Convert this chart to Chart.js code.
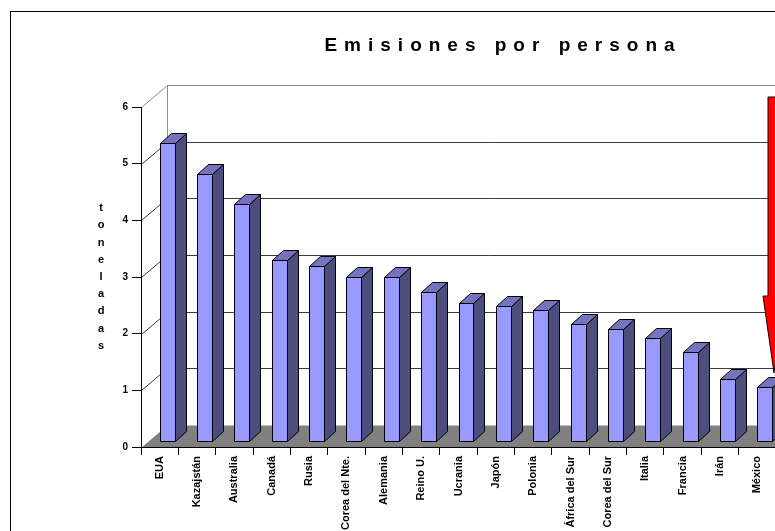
<!DOCTYPE html>
<html lang="es">
<head>
<meta charset="utf-8">
<title>Emisiones por persona</title>
<script src="https://cdn.jsdelivr.net/npm/chart.js@4.4.1/dist/chart.umd.min.js"></script>
<style>
  html, body { margin: 0; padding: 0; background: #fff; overflow: hidden; }
  #wrap { position: relative; width: 810px; height: 560px; }
</style>
</head>
<body>
<div id="wrap"><canvas id="chartEmisiones" width="810" height="560"></canvas></div>
<script>
  const paises = ['EUA', 'Kazajstán', 'Australia', 'Canadá', 'Rusia', 'Corea del Nte.', 'Alemania', 'Reino U.',
    'Ucrania', 'Japón', 'Polonia', 'África del Sur', 'Corea del Sur', 'Italia', 'Francia', 'Irán', 'México'];
  const toneladas = [5.26, 4.71, 4.18, 3.19, 3.08, 2.89, 2.89, 2.63, 2.43, 2.39, 2.31, 2.06, 1.98, 1.81, 1.57, 1.09, 0.96];
  const ejeY = { min: 0, max: 6, paso: 1 };
  const titulo = 'Emisiones por persona';
  const tituloEje = ['t', 'o', 'n', 'e', 'l', 'a', 'd', 'a', 's'];

  const FONT = '"Liberation Sans", Arial, sans-serif';
  const FONDO = { x: 26, y: -22 };   // profundidad de paredes y piso
  const FRENTE = { x: 7.5, y: -6 };  // plano frontal de las barras
  const CUBO = { x: 11, y: -10 };    // grosor de cada barra

  function poligono(ctx, pts, fill, stroke) {
    ctx.beginPath();
    pts.forEach(([x, y], i) => i ? ctx.lineTo(x, y) : ctx.moveTo(x, y));
    ctx.closePath();
    if (fill) { ctx.fillStyle = fill; ctx.fill(); }
    if (stroke) { ctx.strokeStyle = stroke; ctx.stroke(); }
  }

  function linea(ctx, x0, y0, x1, y1, color) {
    ctx.beginPath();
    ctx.moveTo(x0, y0);
    ctx.lineTo(x1, y1);
    ctx.strokeStyle = color;
    ctx.stroke();
  }

  const escena3d = {
    id: 'escena3d',
    beforeDraw(chart) {
      const { ctx, chartArea: a, scales: { y } } = chart;
      ctx.save();
      ctx.lineWidth = 1;
      ctx.strokeStyle = '#000';
      ctx.strokeRect(10.5, 11.5, chart.width, chart.height);

      const l = Math.round(a.left) + 0.5;
      const r = Math.round(a.right) + 0.5;
      const b = Math.round(a.bottom) + 0.5;

      // piso gris
      poligono(ctx, [[l, b], [r, b], [r + FONDO.x, b + FONDO.y], [l + FONDO.x, b + FONDO.y]], '#808080');

      // paredes: lineas de division en el fondo y en el costado
      for (let v = ejeY.min + ejeY.paso; v <= ejeY.max; v += ejeY.paso) {
        const py = Math.round(y.getPixelForValue(v)) + 0.5;
        const color = v === ejeY.max ? '#8c8c8c' : '#3c3c3c';
        linea(ctx, l, py, l + FONDO.x, py + FONDO.y, color);
        linea(ctx, l + FONDO.x, py + FONDO.y, r + FONDO.x + 40, py + FONDO.y, color);
      }
      const top = Math.round(y.getPixelForValue(ejeY.max)) + 0.5;
      linea(ctx, l + FONDO.x, top + FONDO.y, l + FONDO.x, b + FONDO.y, '#8c8c8c');
      ctx.restore();
    },
    afterDatasetsDraw(chart) {
      const ctx = chart.ctx;
      ctx.save();
      ctx.lineWidth = 1;
      chart.getDatasetMeta(0).data.forEach(bar => {
        const x0 = Math.round(bar.x - bar.width / 2 + FRENTE.x) + 0.5;
        const x1 = Math.round(bar.x + bar.width / 2 + FRENTE.x) + 0.5;
        const yt = Math.round(bar.y + FRENTE.y) + 0.5;
        const yb = Math.round(bar.base + FRENTE.y) + 0.5;
        poligono(ctx, [[x1, yt], [x1 + CUBO.x, yt + CUBO.y], [x1 + CUBO.x, yb + CUBO.y], [x1, yb]], '#4d4d80', '#000');
        poligono(ctx, [[x0, yt], [x1, yt], [x1 + CUBO.x, yt + CUBO.y], [x0 + CUBO.x, yt + CUBO.y]], '#7373bf', '#000');
        poligono(ctx, [[x0, yt], [x1, yt], [x1, yb], [x0, yb]], '#9999ff', '#000');
      });
      ctx.restore();
    },
    afterDraw(chart) {
      const { ctx, chartArea: a } = chart;
      ctx.save();
      ctx.fillStyle = '#000';

      // titulo espaciado
      ctx.font = 'bold 19px ' + FONT;
      ctx.textBaseline = 'alphabetic';
      ctx.textAlign = 'left';
      const esp = 7;
      if ('letterSpacing' in ctx) {
        ctx.letterSpacing = esp + 'px';
        const w = ctx.measureText(titulo).width - esp;
        ctx.fillText(titulo, 499.5 - w / 2, 51);
        ctx.letterSpacing = '0px';
      } else {
        let w = -esp;
        for (const ch of titulo) w += ctx.measureText(ch).width + esp;
        let x = 499.5 - w / 2;
        for (const ch of titulo) { ctx.fillText(ch, x, 51); x += ctx.measureText(ch).width + esp; }
      }

      // titulo del eje, una letra por renglon
      ctx.font = 'bold 11px ' + FONT;
      ctx.textAlign = 'center';
      ctx.textBaseline = 'middle';
      const paso = 17.2;
      const y0 = (a.top + a.bottom) / 2 - paso * (tituloEje.length - 1) / 2;
      tituloEje.forEach((ch, i) => ctx.fillText(ch, 101, y0 + i * paso));

      // flecha roja hacia la ultima barra
      const meta = chart.getDatasetMeta(0);
      const ult = meta.data[meta.data.length - 1];
      const cx = Math.round(ult.x + 17);
      const tip = Math.round(ult.y - 20);
      const cab = tip - 77;
      const sup = a.top - 10;
      ctx.lineWidth = 1;
      poligono(ctx, [[cx - 6, sup], [cx + 6, sup], [cx + 6, cab], [cx + 11, cab], [cx, tip], [cx - 11, cab], [cx - 6, cab]],
        '#ff0000', '#1a0000');
      ctx.restore();
    }
  };

  const ctx = document.getElementById('chartEmisiones');
  new Chart(ctx, {
    type: 'bar',
    data: {
      labels: paises,
      datasets: [{
        data: toneladas,
        backgroundColor: 'rgba(0,0,0,0)',
        borderWidth: 0,
        categoryPercentage: 1,
        barPercentage: 0.4
      }]
    },
    options: {
      responsive: false,
      animation: false,
      devicePixelRatio: 1,
      layout: { padding: { left: 0, top: 107, right: 34, bottom: 0 } },
      plugins: { legend: { display: false }, tooltip: { enabled: false }, title: { display: false } },
      scales: {
        x: {
          afterFit: s => { s.height = 113; },
          grid: { display: true, drawOnChartArea: false, drawTicks: true, tickLength: 8, color: '#000', offset: true },
          border: { display: true, color: '#000', width: 1 },
          ticks: {
            autoSkip: false, maxRotation: 90, minRotation: 90, padding: 1, color: '#000',
            font: { family: FONT, size: 11, weight: 'bold' }
          }
        },
        y: {
          min: ejeY.min, max: ejeY.max,
          afterFit: s => { s.width = 141; },
          grid: { display: true, drawOnChartArea: false, drawTicks: true, tickLength: 9, color: '#000' },
          border: { display: true, color: '#000', width: 1 },
          ticks: { stepSize: ejeY.paso, padding: 4, color: '#000', font: { family: FONT, size: 10, weight: 'bold' } }
        }
      }
    },
    plugins: [escena3d]
  });
</script>
</body>
</html>
